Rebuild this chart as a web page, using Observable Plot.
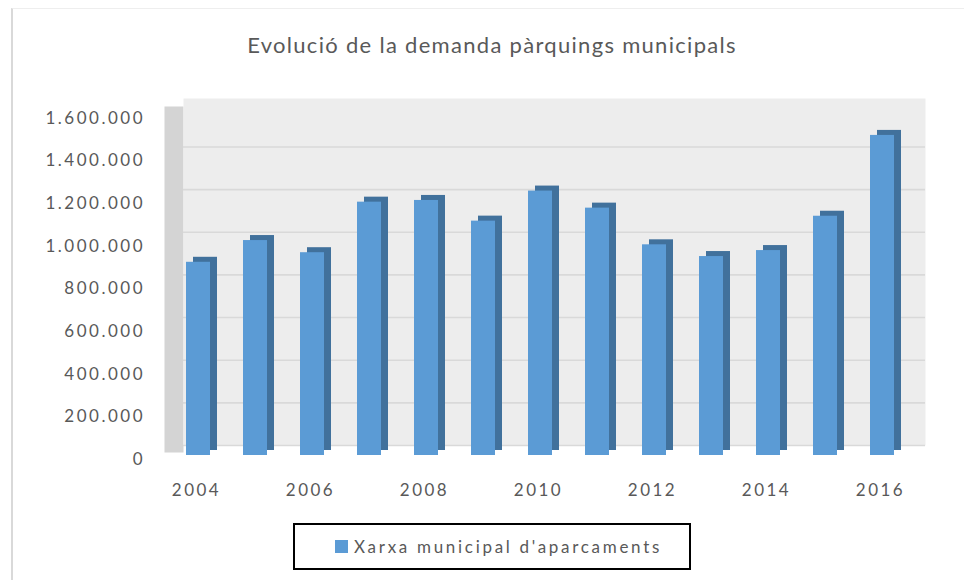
<!DOCTYPE html>
<html>
<head>
<meta charset="utf-8">
<script src="https://cdn.jsdelivr.net/npm/d3@7"></script>
<script src="https://cdn.jsdelivr.net/npm/@observablehq/plot@0.6"></script>
<style>
  html, body { margin: 0; padding: 0; background: #fff; }
  #wrap { position: relative; width: 964px; height: 580px; overflow: hidden; background: #fff; font-family: Lato, sans-serif; color: #595959; }
  #border { position: absolute; left: 11px; top: 8px; right: -10px; bottom: -10px; border-left: 2px solid #d9d9d9; border-top: 1px solid #eeeeee; }
  #title { position: absolute; left: 20px; top: 30px; width: 944px; text-align: center; font-size: 22px; line-height: 30px; letter-spacing: 1.3px; white-space: nowrap; }
  #chart { position: absolute; left: 0; top: 80px; }
  #chart svg text { letter-spacing: 2.5px; }
  #legend { position: absolute; left: 293px; top: 523px; width: 394px; height: 43px; border: 2px solid #000; box-sizing: content-box; display: flex; align-items: center; }
  #legend .sw { width: 13px; height: 13px; margin-left: 40px; margin-right: 6px; }
  #legend .lab { font-size: 17px; letter-spacing: 2.7px; white-space: nowrap; }
</style>
</head>
<body>
<div id="wrap">
  <div id="border"></div>
  <div id="title"></div>
  <div id="chart"></div>
  <div id="legend"><span class="sw"></span><span class="lab"></span></div>
</div>
<script>
const chartTitle = "Evolució de la demanda pàrquings municipals";
const seriesName = "Xarxa municipal d'aparcaments";
const years = [2004, 2005, 2006, 2007, 2008, 2009, 2010, 2011, 2012, 2013, 2014, 2015, 2016];
const demand = [906000, 1008000, 951000, 1188000, 1196000, 1099000, 1240000, 1160000, 988000, 933000, 961000, 1122000, 1501000];
const yTicks = [0, 200000, 400000, 600000, 800000, 1000000, 1200000, 1400000, 1600000];
const xTickYears = [2004, 2006, 2008, 2010, 2012, 2014, 2016];

const frontColor = "#5b9bd5";
const sideColor = "#41719c";

const locale = d3.formatLocale({decimal: ",", thousands: ".", grouping: [3], currency: ["", " €"]});
const fmt = locale.format(",d");

const data = years.map((year, i) => ({year, value: demand[i]}));

document.getElementById("title").textContent = chartTitle;
document.querySelector("#legend .lab").textContent = seriesName;
document.querySelector("#legend .sw").style.background = frontColor;

const chart = Plot.plot({
  width: 964,
  height: 430,
  marginLeft: 157,
  marginRight: 41.5,
  marginTop: 33.8,
  marginBottom: 55,
  x: {type: "band", domain: years, paddingInner: 0.58, paddingOuter: 0.5, axis: null},
  y: {domain: [0, 1600000], axis: null},
  style: {fontFamily: "Lato, sans-serif", color: "#595959", background: "transparent", overflow: "visible"},
  marks: [
    // left side wall
    Plot.frame({fill: "#d4d4d4", stroke: null, insetLeft: 7, insetRight: 739.5, insetTop: -7.8, insetBottom: 3}),
    // back wall
    Plot.frame({fill: "#ededed", stroke: null, insetLeft: 26, insetRight: -2.5, insetTop: -15.8, insetBottom: 10}),
    Plot.ruleY(yTicks.slice(0, -1), {dy: -10, stroke: "#d9d9d9", strokeWidth: 1.6, insetLeft: 26, insetRight: -2.5}),
    // 3D depth of columns
    Plot.barY(data, {x: "year", y: "value", fill: sideColor, dx: 7, dy: -5}),
    // front faces
    Plot.barY(data, {x: "year", y: "value", fill: frontColor}),
    Plot.text(yTicks, {y: d => d, frameAnchor: "left", dx: -12.5, dy: 4, textAnchor: "end", text: d => fmt(d), fontSize: 17, fill: "#595959"}),
    Plot.text(xTickYears, {x: d => d, frameAnchor: "bottom", dy: 40, dx: -2, text: d => String(d), fontSize: 17, fill: "#595959"})
  ]
});
document.getElementById("chart").appendChild(chart);
</script>
</body>
</html>
